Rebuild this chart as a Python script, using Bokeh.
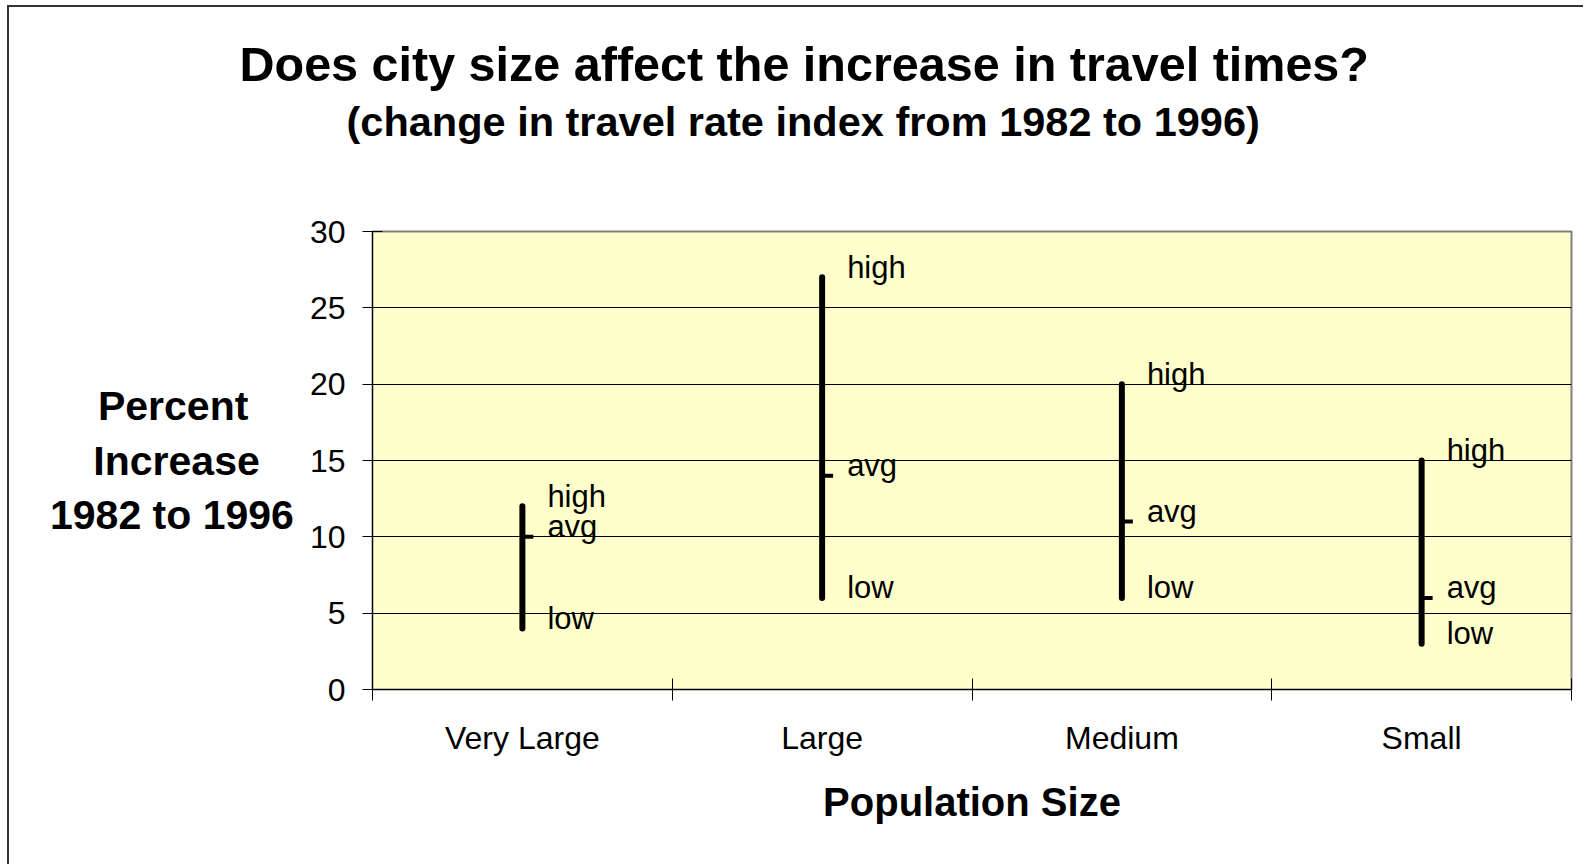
from bokeh.plotting import figure
from bokeh.models import Range1d, FixedTicker, Title, LinearAxis
from bokeh.core.properties import value
from bokeh.embed import file_html
from bokeh.resources import INLINE

# ---- data ----
categories = ["Very Large", "Large", "Medium", "Small"]
low_vals = [4, 6, 6, 3]
high_vals = [12, 27, 20, 15]
avg_vals = [10, 14, 11, 6]
y_ticks = [0, 5, 10, 15, 20, 25, 30]

FONT = "Liberation Sans"
NB = "\u00a0"

centers = [i + 0.5 for i in range(len(categories))]

p = figure(width=1574, height=857, output_backend="svg", toolbar_location=None,
           x_range=Range1d(0, len(categories)), y_range=Range1d(0, 30),
           frame_width=1199, frame_height=458,
           min_border_left=363, min_border_right=12, min_border_top=224,
           min_border_bottom=175)
p.styles = {"margin-left": "7px", "margin-top": "5px",
            "border-left": "2px solid #333333", "border-top": "2px solid #333333"}

p.background_fill_color = "#FFFFCC"
p.border_fill_color = "white"
p.outline_line_color = "#808080"
p.outline_line_width = 2

# y axis
ya = p.left[0]
ya.ticker = FixedTicker(ticks=y_ticks)
ya.major_tick_in = 10
ya.major_tick_out = 10
ya.minor_tick_line_color = None
ya.axis_line_color = "black"
ya.major_tick_line_color = "black"
ya.major_label_text_font = FONT
ya.major_label_text_font_size = "32px"
ya.major_label_text_color = "black"
ya.major_label_standoff = 17
ya.axis_label = "Percent" + NB * 4 + "\nIncrease" + NB * 3 + "\n1982 to 1996"
ya.axis_label_orientation = "horizontal"
ya.axis_label_text_font = FONT
ya.axis_label_text_font_size = "41px"
ya.axis_label_text_font_style = "bold"
ya.axis_label_text_color = "black"
ya.axis_label_text_line_height = 1.19
ya.axis_label_standoff = 13

# x axis: labels at category centres, tick marks at boundaries (minor ticks)
xa = p.below[0]
xa.ticker = FixedTicker(ticks=centers, minor_ticks=list(range(len(categories) + 1)))
xa.major_label_overrides = {c: name for c, name in zip(centers, categories)}
xa.major_tick_line_color = None
xa.major_tick_in = 0
xa.major_tick_out = 0
xa.minor_tick_in = 11
xa.minor_tick_out = 11
xa.minor_tick_line_color = "black"
xa.axis_line_color = "black"
xa.major_label_text_font = FONT
xa.major_label_text_font_size = "32px"
xa.major_label_text_color = "black"
xa.major_label_standoff = 19
xa.axis_label = "Population Size"
xa.axis_label_text_font = FONT
xa.axis_label_text_font_size = "40px"
xa.axis_label_text_font_style = "bold"
xa.axis_label_text_color = "black"
xa.axis_label_standoff = 21

# spacer between plot area and the titles (a blank axis: near-transparent tick, no label text)
spacer = LinearAxis(ticker=FixedTicker(ticks=[2], minor_ticks=[]), axis_line_color=None,
                    major_tick_in=0, major_tick_out=84, major_tick_line_color="white",
                    major_tick_line_alpha=0.01,
                    minor_tick_in=0, minor_tick_out=0, minor_tick_line_color=None,
                    major_label_overrides={2: ""}, major_label_standoff=0,
                    major_label_text_font_size="1px")
p.add_layout(spacer, "above")

# titles
sub = Title(text="(change in travel rate index from 1982 to 1996)", align="left", offset=-26,
            text_font=FONT, text_font_size="41.5px", text_font_style="bold",
            text_color="black", standoff=5)
main = Title(text="Does city size affect the increase in travel times?", align="left", offset=-133,
             text_font=FONT, text_font_size="48.5px", text_font_style="bold",
             text_color="black", standoff=5)
p.add_layout(sub, "above")
p.add_layout(main, "above")

p.xgrid.grid_line_color = None
p.ygrid.ticker = FixedTicker(ticks=y_ticks)
p.ygrid.grid_line_color = "black"
p.ygrid.grid_line_width = 1

# high-low bars
p.segment(x0=centers, y0=low_vals, x1=centers, y1=high_vals,
          line_color="black", line_width=6, line_cap="round")
# avg ticks to the right
p.ray(x=centers, y=avg_vals, length=11, length_units="screen", angle=0,
      line_color="black", line_width=4)

# value labels
for vals, name in ((high_vals, "high"), (avg_vals, "avg"), (low_vals, "low")):
    p.text(x=centers, y=vals, text=[name] * len(centers), x_offset=25, y_offset=-10,
           text_font=value(FONT), text_font_size="31px", text_color="black",
           text_align="left", text_baseline="middle")

open("out.html", "w").write(file_html(p, INLINE))
